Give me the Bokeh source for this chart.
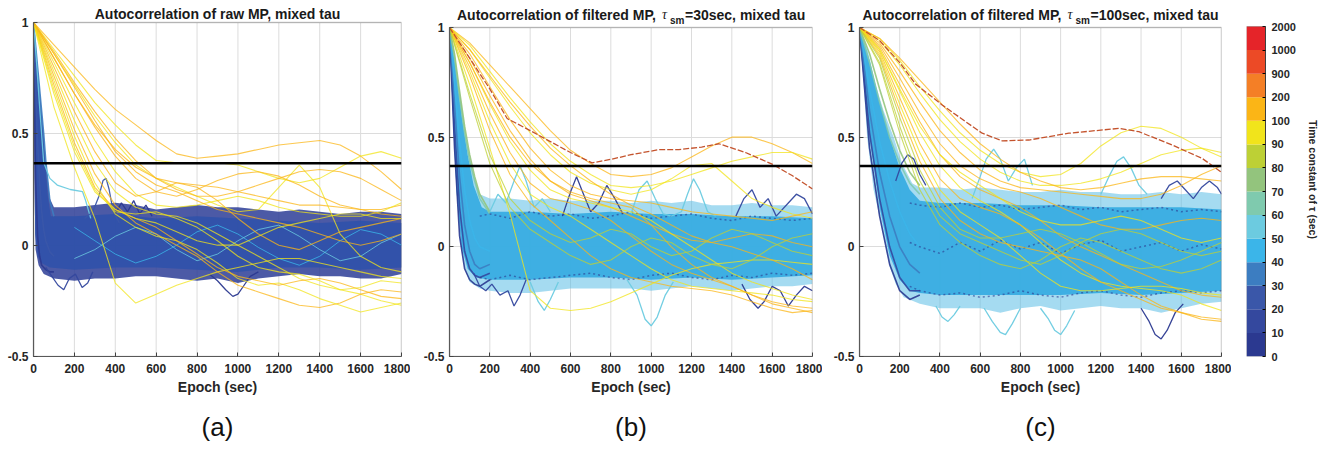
from bokeh.plotting import figure
from bokeh.models import Range1d, FixedTicker, Span, Label, Title, BoxAnnotation
from bokeh.layouts import row
from bokeh.embed import file_html
from bokeh.resources import INLINE

FONT = "Liberation Sans"

# ---------------- axes / scale ----------------
epoch_ticks = [0, 200, 400, 600, 800, 1000, 1200, 1400, 1600, 1800]
acf_ticks = [-0.5, 0, 0.5, 1]
acf_tick_labels = ["-0.5", "0", "0.5", "1"]
epoch_min, epoch_max = 0, 1800
acf_min, acf_max = -0.5, 1
one_over_e = 0.368

tau_bin_labels = ["0", "10", "20", "30", "40", "50", "60", "70", "80", "90",
                  "100", "200", "900", "1000", "2000"]
tau_colors = ["#2b3990", "#34489e", "#3a57a9", "#3c7dc1", "#3bb5e9", "#6ccbe0",
              "#7fcaae", "#93c47d", "#bdd035", "#f1e41b", "#fbb516", "#f47f26",
              "#ec4a26", "#e52429"]
red_curve_color = "#c4532d"

epoch_grid = [0, 100, 200, 300, 400, 500, 600, 700, 800, 900, 1000, 1100,
              1200, 1300, 1400, 1500, 1600, 1700, 1800]

# ================= panel (a) =================
a_band_up_x = [0, 20, 40, 50, 60, 80, 100, 200, 300, 400, 500, 600, 700, 800,
               900, 1000, 1100, 1200, 1300, 1400, 1500, 1600, 1700, 1800]
a_band_up_y = [1.00, 0.80, 0.60, 0.50, 0.38, 0.21, 0.17, 0.17, 0.18, 0.19, 0.18,
               0.16, 0.17, 0.18, 0.17, 0.17, 0.16, 0.15, 0.16, 0.15, 0.14, 0.15,
               0.15, 0.14]
a_band_lo_x = [0, 5, 10, 25, 50, 100, 200, 300, 400, 500, 600, 700, 800, 900,
               1000, 1100, 1200, 1300, 1400, 1500, 1600, 1700, 1800]
a_band_lo_y = [0.90, 0.25, -0.02, -0.09, -0.13, -0.15, -0.16, -0.15, -0.15,
               -0.14, -0.14, -0.15, -0.16, -0.15, -0.17, -0.15, -0.14, -0.13,
               -0.14, -0.14, -0.15, -0.15, -0.13]
a_core_up_x = [0, 18, 35, 46, 56, 70, 85, 200, 400, 600, 800, 1000, 1200, 1400,
               1600, 1800]
a_core_up_y = [1.00, 0.78, 0.60, 0.50, 0.38, 0.22, 0.13, 0.13, 0.14, 0.12, 0.13,
               0.12, 0.11, 0.10, 0.11, 0.10]
a_core_lo_x = [0, 8, 20, 40, 80, 200, 400, 600, 800, 1000, 1200, 1400, 1600, 1800]
a_core_lo_y = [0.95, 0.05, -0.05, -0.08, -0.10, -0.11, -0.10, -0.10, -0.11,
               -0.12, -0.10, -0.10, -0.11, -0.10]

a_decay_x = [0, 10, 20, 30, 40, 50, 60, 80, 100]
a_decay_y = [
    [1.00, 0.30, 0.04, -0.05, -0.09, -0.10, -0.11, -0.12, -0.12],
    [1.00, 0.72, 0.46, 0.28, 0.15, 0.07, 0.02, -0.03, -0.05],
    [1.00, 0.90, 0.80, 0.70, 0.60, 0.50, 0.38, 0.20, 0.13],
]
a_decay_tau = [0, 2, 3]

a_streak_x = [200, 300, 400, 500, 600, 700, 800, 900, 1000, 1100, 1200, 1300,
              1400, 1500, 1600, 1700, 1800]
a_streak_y = [
    [0.08, 0.02, -0.04, -0.08, -0.05, 0.00, 0.06, 0.09, 0.05, -0.01, -0.06,
     -0.09, -0.05, 0.02, 0.07, 0.05, 0.00],
    [-0.06, -0.02, 0.04, 0.08, 0.05, -0.02, -0.07, -0.04, 0.02, 0.07, 0.09,
     0.04, -0.02, -0.07, -0.05, 0.01, 0.05],
]
a_streak_tau = [4, 5]

a_wig_x = [
    [0, 15, 30, 50, 80, 116, 180, 240, 255, 280],
    [250, 290, 320, 340, 355, 370, 390, 420],
    [60, 90, 120, 148, 175, 205, 238, 265, 290],
    [860, 900, 940, 975, 1000, 1030, 1060, 1100],
    [400, 430, 460, 490, 520, 550, 580],
]
a_wig_y = [
    [1.00, 0.82, 0.62, 0.37, 0.30, 0.27, 0.25, 0.24, 0.20, 0.12],
    [0.12, 0.15, 0.22, 0.29, 0.30, 0.25, 0.15, 0.10],
    [-0.10, -0.14, -0.18, -0.20, -0.15, -0.13, -0.19, -0.17, -0.12],
    [-0.13, -0.16, -0.20, -0.23, -0.22, -0.18, -0.14, -0.12],
    [0.14, 0.19, 0.15, 0.20, 0.14, 0.18, 0.13],
]
a_wig_tau = [5, 2, 1, 0, 0]

a_slow_y = [
    [1.00, 0.90, 0.80, 0.70, 0.61, 0.54, 0.47, 0.41, 0.39, 0.40, 0.41, 0.43, 0.45, 0.46, 0.47, 0.45, 0.40, 0.33, 0.25],
    [1.00, 0.88, 0.76, 0.64, 0.54, 0.45, 0.38, 0.37, 0.37, 0.37, 0.36, 0.33, 0.30, 0.28, 0.30, 0.35, 0.40, 0.42, 0.39],
    [1.00, 0.86, 0.72, 0.58, 0.46, 0.36, 0.30, 0.26, 0.22, 0.18, 0.15, 0.16, 0.26, 0.36, 0.26, 0.05, -0.05, -0.10, -0.12],
    [1.00, 0.87, 0.73, 0.60, 0.48, 0.38, 0.30, 0.25, 0.22, 0.22, 0.24, 0.27, 0.30, 0.33, 0.34, 0.33, 0.30, 0.25, 0.20],
    [1.00, 0.84, 0.68, 0.53, 0.40, 0.30, 0.24, 0.22, 0.25, 0.29, 0.32, 0.33, 0.31, 0.27, 0.22, 0.18, 0.16, 0.16, 0.18],
    [1.00, 0.82, 0.64, 0.47, 0.33, 0.23, 0.18, 0.17, 0.18, 0.20, 0.22, 0.20, 0.17, 0.15, 0.14, 0.13, 0.13, 0.15, 0.19],
    [1.00, 0.80, 0.60, 0.42, 0.28, 0.22, 0.24, 0.28, 0.26, 0.20, 0.12, 0.05, 0.00, -0.02, 0.02, 0.06, 0.08, 0.10, 0.12],
    [1.00, 0.78, 0.56, 0.37, 0.24, 0.17, 0.14, 0.13, 0.10, 0.05, 0.00, -0.05, -0.10, -0.15, -0.18, -0.20, -0.22, -0.25, -0.27],
    [1.00, 0.62, 0.35, 0.12, -0.17, -0.26, -0.22, -0.18, -0.15, -0.12, -0.10, -0.08, -0.06, -0.06, -0.08, -0.10, -0.12, -0.14, -0.15],
    [1.00, 0.76, 0.52, 0.32, 0.18, 0.10, 0.05, 0.00, -0.05, -0.12, -0.18, -0.21, -0.24, -0.27, -0.28, -0.26, -0.22, -0.20, -0.21],
    [1.00, 0.74, 0.49, 0.28, 0.14, 0.08, 0.04, 0.02, -0.02, -0.08, -0.15, -0.18, -0.17, -0.20, -0.24, -0.27, -0.30, -0.28, -0.26],
    [1.00, 0.72, 0.46, 0.26, 0.16, 0.12, 0.08, 0.02, -0.04, -0.10, -0.14, -0.16, -0.18, -0.16, -0.15, -0.17, -0.20, -0.23, -0.24],
    [1.00, 0.70, 0.44, 0.25, 0.15, 0.14, 0.15, 0.12, 0.08, 0.02, -0.05, -0.10, -0.12, -0.13, -0.16, -0.20, -0.19, -0.16, -0.17],
    [1.00, 0.86, 0.71, 0.56, 0.42, 0.33, 0.27, 0.24, 0.20, 0.16, 0.14, 0.12, 0.10, 0.08, 0.05, 0.02, 0.00, 0.02, 0.05],
    [1.00, 0.68, 0.42, 0.24, 0.16, 0.12, 0.10, 0.06, 0.02, 0.00, 0.00, 0.04, 0.08, 0.10, 0.12, 0.14, 0.14, 0.12, 0.12],
    [1.00, 0.84, 0.68, 0.54, 0.43, 0.35, 0.30, 0.28, 0.27, 0.26, 0.24, 0.22, 0.20, 0.18, 0.18, 0.17, 0.16, 0.14, 0.13],
]
a_slow_tau = [10, 9, 9, 10, 10, 9, 10, 9, 9, 10, 9, 10, 9, 10, 9, 10]

# ================= panel (b) =================
b_band_up_x = [0, 25, 50, 75, 100, 125, 150, 200, 300, 400, 500, 600, 700, 800,
               900, 1000, 1100, 1200, 1300, 1400, 1500, 1600, 1700, 1800]
b_band_up_y = [1.00, 0.87, 0.70, 0.54, 0.40, 0.31, 0.24, 0.22, 0.22, 0.21, 0.22,
               0.21, 0.21, 0.21, 0.20, 0.21, 0.20, 0.21, 0.19, 0.19, 0.20, 0.19,
               0.19, 0.18]
b_band_lo_x = [0, 10, 25, 50, 75, 100, 150, 200, 300, 400, 500, 600, 700, 800,
               900, 1000, 1100, 1200, 1300, 1400, 1500, 1600, 1700, 1800]
b_band_lo_y = [1.00, 0.75, 0.42, 0.04, -0.10, -0.16, -0.19, -0.20, -0.21, -0.21,
               -0.20, -0.19, -0.19, -0.19, -0.19, -0.20, -0.19, -0.18, -0.19,
               -0.20, -0.19, -0.18, -0.18, -0.17]
b_core_up_x = [0, 30, 60, 90, 120, 160, 200, 400, 600, 800, 1000, 1200, 1400, 1600, 1800]
b_core_up_y = [1.00, 0.82, 0.60, 0.42, 0.28, 0.18, 0.16, 0.16, 0.15, 0.16, 0.15,
               0.15, 0.14, 0.14, 0.13]
b_core_lo_x = [0, 15, 35, 60, 90, 130, 200, 400, 600, 800, 1000, 1200, 1400, 1600, 1800]
b_core_lo_y = [1.00, 0.62, 0.25, 0.00, -0.10, -0.14, -0.15, -0.15, -0.14, -0.14,
               -0.15, -0.14, -0.15, -0.14, -0.13]

b_decay_x = [0, 25, 50, 75, 100, 125, 150, 200]
b_decay_y = [
    [1.00, 0.45, 0.05, -0.10, -0.15, -0.17, -0.18, -0.15],
    [1.00, 0.55, 0.18, -0.02, -0.10, -0.13, -0.14, -0.12],
    [1.00, 0.65, 0.32, 0.10, -0.02, -0.08, -0.10, -0.08],
    [1.00, 0.75, 0.48, 0.26, 0.12, 0.04, 0.00, -0.02],
    [1.00, 0.86, 0.68, 0.52, 0.39, 0.30, 0.22, 0.15],
    [1.00, 0.88, 0.71, 0.55, 0.42, 0.32, 0.24, 0.16],
]
b_decay_tau = [0, 1, 3, 4, 6, 7]

b_spk_x = [150, 200, 300, 400, 500, 600, 700, 800, 900, 1000, 1100, 1200, 1300,
           1400, 1500, 1600, 1700, 1800]
b_spk_y = [
    [0.14, 0.15, 0.13, 0.16, 0.14, 0.15, 0.13, 0.14, 0.16, 0.13, 0.14, 0.15, 0.13, 0.12, 0.14, 0.13, 0.12, 0.13],
    [-0.14, -0.15, -0.13, -0.15, -0.14, -0.13, -0.12, -0.14, -0.15, -0.13, -0.12, -0.14, -0.15, -0.13, -0.14, -0.12, -0.13, -0.12],
]

b_wig_x = [
    [200, 240, 280, 320, 350, 380, 420, 460, 500],
    [560, 600, 630, 660, 700, 740, 780, 820, 860],
    [900, 940, 980, 1020, 1060, 1100, 1150, 1180, 1210, 1240, 1280, 1320],
    [1420, 1460, 1500, 1540, 1580, 1620, 1680, 1720, 1760, 1800],
    [120, 150, 180, 210, 250, 290, 320, 350, 380],
    [400, 440, 470, 500, 540],
    [880, 930, 970, 1000, 1030, 1070, 1110],
    [1450, 1490, 1530, 1560, 1600, 1640, 1680, 1720, 1760, 1800],
]
b_wig_y = [
    [0.16, 0.24, 0.20, 0.30, 0.37, 0.30, 0.18, 0.22, 0.16],
    [0.14, 0.25, 0.32, 0.25, 0.16, 0.20, 0.28, 0.22, 0.15],
    [0.15, 0.26, 0.30, 0.22, 0.15, 0.14, 0.16, 0.24, 0.31, 0.26, 0.16, 0.14],
    [0.14, 0.22, 0.26, 0.18, 0.22, 0.14, 0.20, 0.24, 0.22, 0.15],
    [-0.12, -0.18, -0.20, -0.17, -0.22, -0.20, -0.27, -0.22, -0.15],
    [-0.16, -0.25, -0.29, -0.24, -0.16],
    [-0.15, -0.22, -0.33, -0.36, -0.32, -0.22, -0.16],
    [-0.17, -0.24, -0.28, -0.25, -0.18, -0.20, -0.27, -0.22, -0.18, -0.20],
]
b_wig_tau = [5, 0, 5, 1, 1, 5, 5, 0]

b_slow_y = [
    [1.00, 0.93, 0.83, 0.73, 0.63, 0.53, 0.44, 0.38, 0.33, 0.32, 0.33, 0.36, 0.41, 0.46, 0.50, 0.50, 0.47, 0.43, 0.38],
    [1.00, 0.92, 0.80, 0.68, 0.57, 0.47, 0.39, 0.33, 0.28, 0.27, 0.28, 0.30, 0.33, 0.36, 0.39, 0.41, 0.43, 0.43, 0.40],
    [1.00, 0.90, 0.77, 0.64, 0.52, 0.42, 0.34, 0.29, 0.26, 0.24, 0.26, 0.31, 0.37, 0.38, 0.30, 0.22, 0.18, 0.15, 0.13],
    [1.00, 0.88, 0.73, 0.58, 0.45, 0.35, 0.28, 0.24, 0.22, 0.21, 0.20, 0.18, 0.16, 0.15, 0.14, 0.13, 0.12, 0.14, 0.16],
    [1.00, 0.86, 0.69, 0.53, 0.40, 0.30, 0.24, 0.21, 0.18, 0.14, 0.10, 0.06, 0.03, 0.02, 0.04, 0.06, 0.05, 0.02, 0.00],
    [1.00, 0.84, 0.65, 0.48, 0.35, 0.26, 0.22, 0.20, 0.18, 0.16, 0.12, 0.06, 0.00, -0.06, -0.12, -0.16, -0.19, -0.22, -0.24],
    [1.00, 0.82, 0.61, 0.43, 0.29, 0.22, 0.20, 0.17, 0.12, 0.05, -0.02, -0.08, -0.12, -0.15, -0.18, -0.22, -0.25, -0.27, -0.28],
    [1.00, 0.80, 0.57, 0.38, 0.24, 0.18, 0.14, 0.08, 0.02, -0.04, -0.10, -0.15, -0.18, -0.19, -0.20, -0.21, -0.22, -0.24, -0.25],
    [1.00, 0.78, 0.53, 0.33, 0.20, 0.12, 0.04, -0.04, -0.10, -0.14, -0.16, -0.18, -0.19, -0.20, -0.22, -0.25, -0.28, -0.30, -0.29],
    [1.00, 0.74, 0.45, 0.15, -0.20, -0.28, -0.29, -0.28, -0.25, -0.21, -0.17, -0.13, -0.10, -0.08, -0.07, -0.06, -0.06, -0.07, -0.08],
    [1.00, 0.84, 0.66, 0.50, 0.38, 0.30, 0.25, 0.22, 0.20, 0.18, 0.10, 0.00, -0.08, -0.14, -0.18, -0.22, -0.26, -0.28, -0.30],
    [1.00, 0.90, 0.78, 0.66, 0.55, 0.45, 0.37, 0.30, 0.24, 0.19, 0.15, 0.10, 0.05, 0.02, 0.00, -0.03, -0.06, -0.10, -0.15],
    [1.00, 0.70, 0.42, 0.22, 0.12, 0.06, 0.02, 0.04, 0.08, 0.06, 0.00, -0.04, -0.02, 0.04, 0.08, 0.06, 0.02, -0.02, -0.04],
    [1.00, 0.68, 0.38, 0.18, 0.08, 0.02, -0.04, -0.08, -0.06, 0.00, 0.04, 0.02, -0.04, -0.08, -0.10, -0.06, 0.00, 0.04, 0.06],
]
b_slow_tau = [10, 9, 9, 10, 10, 9, 10, 9, 10, 9, 10, 10, 8, 8]

b_red_x = [0, 100, 200, 286, 400, 500, 600, 707, 806, 900, 1038, 1137, 1250, 1336,
           1468, 1600, 1699, 1800]
b_red_y = [1.00, 0.86, 0.72, 0.585, 0.53, 0.48, 0.43, 0.383, 0.40, 0.42, 0.443,
           0.443, 0.455, 0.47, 0.43, 0.377, 0.325, 0.264]

# ================= panel (c) =================
c_band_up_x = [0, 40, 80, 120, 170, 212, 262, 300, 400, 500, 600, 700, 800, 900,
               1000, 1100, 1200, 1300, 1400, 1500, 1600, 1700, 1800]
c_band_up_y = [1.00, 0.90, 0.74, 0.62, 0.50, 0.38, 0.29, 0.27, 0.27, 0.26, 0.27,
               0.26, 0.25, 0.25, 0.26, 0.25, 0.25, 0.24, 0.24, 0.25, 0.24, 0.25,
               0.24]
c_band_lo_x = [0, 20, 38, 70, 104, 130, 150, 180, 220, 300, 400, 500, 600, 700,
               800, 900, 1000, 1100, 1200, 1300, 1400, 1500, 1600, 1700, 1800]
c_band_lo_y = [1.00, 0.75, 0.50, 0.26, 0.12, 0.00, -0.09, -0.17, -0.23, -0.26,
               -0.28, -0.28, -0.28, -0.30, -0.28, -0.27, -0.29, -0.28, -0.27,
               -0.28, -0.28, -0.30, -0.28, -0.26, -0.25]
c_core_up_x = [0, 50, 100, 150, 200, 250, 300, 400, 600, 800, 1000, 1200, 1400, 1600, 1800]
c_core_up_y = [1.00, 0.85, 0.66, 0.50, 0.36, 0.26, 0.21, 0.20, 0.20, 0.19, 0.19,
               0.18, 0.18, 0.18, 0.17]
c_core_lo_x = [0, 50, 100, 150, 200, 250, 300, 400, 600, 800, 1000, 1200, 1400, 1600, 1800]
c_core_lo_y = [1.00, 0.50, 0.18, -0.04, -0.15, -0.20, -0.21, -0.22, -0.22, -0.22,
               -0.22, -0.21, -0.22, -0.21, -0.20]

c_decay_x = [0, 50, 100, 150, 200, 250, 300]
c_decay_y = [
    [1.00, 0.45, 0.14, -0.08, -0.20, -0.24, -0.22],
    [1.00, 0.52, 0.22, 0.00, -0.14, -0.20, -0.20],
    [1.00, 0.62, 0.34, 0.14, 0.00, -0.08, -0.12],
    [1.00, 0.72, 0.48, 0.30, 0.16, 0.06, 0.00],
    [1.00, 0.84, 0.66, 0.50, 0.38, 0.29, 0.24],
    [1.00, 0.88, 0.72, 0.57, 0.44, 0.34, 0.28],
]
c_decay_tau = [0, 1, 3, 4, 6, 7]

c_spk_x = [250, 300, 400, 500, 600, 700, 800, 900, 1000, 1100, 1200, 1300, 1400,
           1500, 1600, 1700, 1800]
c_spk_y = [
    [0.20, 0.19, 0.18, 0.20, 0.18, 0.19, 0.17, 0.18, 0.19, 0.17, 0.18, 0.16, 0.17, 0.18, 0.16, 0.17, 0.16],
    [-0.18, -0.20, -0.22, -0.21, -0.23, -0.22, -0.20, -0.22, -0.23, -0.21, -0.20, -0.22, -0.23, -0.21, -0.20, -0.21, -0.20],
    [0.02, 0.00, -0.03, 0.02, -0.02, 0.03, -0.01, 0.02, -0.03, 0.01, 0.03, -0.02, 0.00, 0.02, -0.02, 0.01, -0.01],
]

c_wig_x = [
    [560, 600, 630, 667, 700, 740, 780, 820, 860],
    [180, 210, 240, 270, 300, 330],
    [1200, 1240, 1280, 1313, 1350, 1390, 1430],
    [1500, 1540, 1580, 1620, 1660, 1700, 1740, 1780, 1800],
    [620, 660, 700, 726, 760, 800],
    [900, 940, 970, 1000, 1030, 1070],
    [1400, 1440, 1470, 1500, 1530, 1570, 1610],
    [380, 410, 440, 470, 500],
]
c_wig_y = [
    [0.22, 0.32, 0.40, 0.445, 0.40, 0.30, 0.36, 0.40, 0.28],
    [0.30, 0.38, 0.42, 0.40, 0.33, 0.28],
    [0.24, 0.32, 0.39, 0.41, 0.36, 0.28, 0.24],
    [0.22, 0.28, 0.30, 0.26, 0.22, 0.27, 0.30, 0.27, 0.24],
    [-0.28, -0.34, -0.39, -0.40, -0.35, -0.28],
    [-0.28, -0.33, -0.38, -0.40, -0.36, -0.29],
    [-0.28, -0.34, -0.40, -0.42, -0.38, -0.30, -0.26],
    [-0.27, -0.32, -0.34, -0.31, -0.27],
]
c_wig_tau = [5, 1, 5, 1, 5, 5, 0, 5]

c_slow_y = [
    [1.00, 0.95, 0.85, 0.73, 0.62, 0.52, 0.44, 0.38, 0.34, 0.32, 0.33, 0.38, 0.46, 0.52, 0.55, 0.54, 0.50, 0.45, 0.41],
    [1.00, 0.94, 0.83, 0.70, 0.58, 0.48, 0.40, 0.34, 0.30, 0.28, 0.28, 0.29, 0.31, 0.34, 0.38, 0.42, 0.44, 0.45, 0.43],
    [1.00, 0.93, 0.80, 0.66, 0.53, 0.43, 0.35, 0.30, 0.27, 0.26, 0.25, 0.24, 0.23, 0.22, 0.22, 0.24, 0.28, 0.33, 0.37],
    [1.00, 0.92, 0.77, 0.61, 0.47, 0.37, 0.31, 0.27, 0.25, 0.22, 0.18, 0.14, 0.10, 0.08, 0.08, 0.10, 0.12, 0.13, 0.12],
    [1.00, 0.91, 0.74, 0.57, 0.42, 0.32, 0.26, 0.22, 0.18, 0.12, 0.05, 0.00, -0.04, -0.08, -0.12, -0.16, -0.20, -0.22, -0.23],
    [1.00, 0.90, 0.71, 0.52, 0.37, 0.27, 0.21, 0.16, 0.10, 0.02, -0.06, -0.12, -0.16, -0.18, -0.19, -0.20, -0.22, -0.26, -0.29],
    [1.00, 0.89, 0.68, 0.47, 0.31, 0.22, 0.18, 0.15, 0.10, 0.04, -0.03, -0.10, -0.16, -0.20, -0.24, -0.28, -0.30, -0.32, -0.33],
    [1.00, 0.88, 0.65, 0.43, 0.26, 0.16, 0.10, 0.04, -0.04, -0.12, -0.18, -0.20, -0.20, -0.19, -0.18, -0.18, -0.19, -0.21, -0.22],
    [1.00, 0.87, 0.62, 0.39, 0.22, 0.12, 0.06, 0.02, 0.00, -0.02, -0.04, -0.06, -0.10, -0.16, -0.22, -0.27, -0.30, -0.33, -0.34],
    [1.00, 0.86, 0.59, 0.35, 0.18, 0.08, 0.04, 0.04, 0.06, 0.08, 0.06, 0.02, -0.03, -0.08, -0.10, -0.09, -0.06, -0.02, 0.02],
    [1.00, 0.95, 0.86, 0.76, 0.66, 0.56, 0.47, 0.40, 0.34, 0.30, 0.27, 0.26, 0.27, 0.29, 0.31, 0.32, 0.32, 0.31, 0.30],
    [1.00, 0.84, 0.55, 0.30, 0.14, 0.06, 0.02, -0.02, -0.06, -0.08, -0.04, 0.02, 0.06, 0.08, 0.06, 0.02, -0.02, -0.04, -0.02],
    [1.00, 0.83, 0.52, 0.26, 0.10, 0.02, -0.04, -0.08, -0.10, -0.06, 0.00, 0.04, 0.02, -0.02, -0.06, -0.10, -0.12, -0.10, -0.06],
    [1.00, 0.90, 0.72, 0.55, 0.42, 0.34, 0.28, 0.22, 0.16, 0.12, 0.10, 0.10, 0.12, 0.14, 0.12, 0.08, 0.04, 0.02, 0.04],
]
c_slow_tau = [9, 9, 10, 10, 10, 9, 10, 9, 10, 8, 10, 8, 8, 9]

c_red_x = [0, 100, 200, 278, 411, 527, 610, 710, 842, 1041, 1290, 1389, 1555, 1704, 1800]
c_red_y = [1.00, 0.94, 0.84, 0.743, 0.647, 0.571, 0.518, 0.483, 0.487, 0.518,
           0.54, 0.525, 0.464, 0.403, 0.34]

# ---------------- layout constants (pixels) ----------------
TOP_B, FRAME_H, BOTTOM_B = 2, 354, 92


def build_panel(d, left_b, frame_w, right_b, y_top):
    # the frame reaches up into the title strip so the title texts sit inside it
    p = figure(frame_width=frame_w, frame_height=FRAME_H, title=None,
               x_range=Range1d(epoch_min, epoch_max), y_range=Range1d(acf_min, y_top),
               min_border_left=left_b, min_border_right=right_b,
               min_border_top=TOP_B, min_border_bottom=BOTTOM_B,
               output_backend="svg", toolbar_location=None)
    p.background_fill_color = "white"
    p.outline_line_color = None
    for ax in (p.xaxis, p.yaxis):
        ax.major_label_text_font = FONT
        ax.major_label_text_font_style = "bold"
        ax.major_label_text_font_size = "12px"
        ax.major_label_text_color = "#262626"
        ax.axis_line_color = "#5a5a5a"
        ax.axis_line_width = 1.2
        ax.major_tick_in = 4
        ax.major_tick_out = 0
        ax.major_tick_line_color = "#404040"
        ax.minor_tick_line_color = None
    p.xaxis.ticker = FixedTicker(ticks=epoch_ticks)
    p.yaxis.ticker = FixedTicker(ticks=acf_ticks)
    p.yaxis.bounds = (acf_min, acf_max)
    p.yaxis.major_label_overrides = {t: s for t, s in zip(acf_ticks, acf_tick_labels)}
    p.xaxis.major_label_standoff = 7
    p.yaxis.major_label_standoff = 5
    p.xaxis.axis_label = "Epoch (sec)"
    p.xaxis.axis_label_text_font = FONT
    p.xaxis.axis_label_text_font_style = "bold"
    p.xaxis.axis_label_text_font_size = "14px"
    p.xaxis.axis_label_text_color = "#262626"
    p.xaxis.axis_label_standoff = 3
    p.xgrid.visible = False
    p.ygrid.ticker = FixedTicker(ticks=acf_ticks)
    p.ygrid.grid_line_color = "#dcdcdc"
    p.segment(x0=epoch_ticks, y0=[acf_min] * len(epoch_ticks), x1=epoch_ticks,
              y1=[acf_max] * len(epoch_ticks), line_color="#dcdcdc", line_width=1,
              level="underlay")

    # dense cloud of short-tau curves
    p.patch(d["band_up_x"] + d["band_lo_x"][::-1], d["band_up_y"] + d["band_lo_y"][::-1],
            fill_color=d["band_color"], fill_alpha=d["band_alpha"], line_color=None)
    p.patch(d["core_up_x"] + d["core_lo_x"][::-1], d["core_up_y"] + d["core_lo_y"][::-1],
            fill_color=d["core_color"], fill_alpha=0.95, line_color=None)
    for ys, t in zip(d["decay_y"], d["decay_tau"]):
        p.line(d["decay_x"], ys, line_color=tau_colors[t], line_width=1.6, line_alpha=0.9)
    for ys in d.get("spk_y", []):
        p.line(d["spk_x"], ys, line_color=tau_colors[0], line_width=1.5,
               line_alpha=0.6, line_dash="2 3")
    for ys, t in zip(d.get("streak_y", []), d.get("streak_tau", [])):
        p.line(d["streak_x"], ys, line_color=tau_colors[t], line_width=1, line_alpha=0.8)
    for xs, ys, t in zip(d["wig_x"], d["wig_y"], d["wig_tau"]):
        p.line(xs, ys, line_color=tau_colors[t], line_width=1.3, line_alpha=0.95)
    for ys, t in zip(d["slow_y"], d["slow_tau"]):
        p.line(epoch_grid, ys, line_color=tau_colors[t], line_width=1.1, line_alpha=0.75)
    if "red_x" in d:
        p.line(d["red_x"], d["red_y"], line_color=red_curve_color, line_width=1.3,
               line_dash="6 2")
    p.add_layout(Span(location=one_over_e, dimension="width", line_color="black",
                      line_width=2.5))
    p.add_layout(BoxAnnotation(left=epoch_min, right=epoch_max, bottom=acf_min,
                               top=acf_max, fill_alpha=0, line_color="#5a5a5a",
                               line_width=1.5))

    # titles (inside the extended frame, above y = 1)
    if d["sub"] is None:
        p.add_layout(Label(x=900, y=acf_max, y_offset=8, text=d["title"],
                           text_align="center", text_baseline="alphabetic",
                           text_font=FONT, text_font_style="bold",
                           text_font_size="14px", text_color="#1a1a1a"))
    else:
        o = d["offs"]
        p.add_layout(Label(x=900, y=acf_max, x_offset=o[0], y_offset=13, text=d["title"],
                           text_align="left", text_baseline="alphabetic", text_font=FONT,
                           text_font_style="bold", text_font_size="14px", text_color="#1a1a1a"))
        p.add_layout(Label(x=900, y=acf_max, x_offset=o[1], y_offset=13, text="τ",
                           text_align="left", text_baseline="alphabetic",
                           text_font="Liberation Serif", text_font_style="italic",
                           text_font_size="14px", text_color="#1a1a1a"))
        p.add_layout(Label(x=900, y=acf_max, x_offset=o[2], y_offset=7, text="sm",
                           text_align="left", text_baseline="alphabetic", text_font=FONT,
                           text_font_style="bold", text_font_size="10px", text_color="#1a1a1a"))
        p.add_layout(Label(x=900, y=acf_max, x_offset=o[3], y_offset=13, text=d["sub"],
                           text_align="left", text_baseline="alphabetic", text_font=FONT,
                           text_font_style="bold", text_font_size="14px", text_color="#1a1a1a"))
    p.add_layout(Title(text=d["letter"], align="center", text_font=FONT,
                       text_font_size="26px", text_font_style="normal",
                       text_color="#111111", standoff=24), "below")
    return p


panel_a = dict(band_up_x=a_band_up_x, band_up_y=a_band_up_y, band_lo_x=a_band_lo_x,
               band_lo_y=a_band_lo_y, core_up_x=a_core_up_x, core_up_y=a_core_up_y,
               core_lo_x=a_core_lo_x, core_lo_y=a_core_lo_y,
               band_color="#2d3d97", band_alpha=0.85, core_color="#3052aa",
               decay_x=a_decay_x, decay_y=a_decay_y, decay_tau=a_decay_tau,
               streak_x=a_streak_x, streak_y=a_streak_y, streak_tau=a_streak_tau,
               wig_x=a_wig_x, wig_y=a_wig_y, wig_tau=a_wig_tau,
               slow_y=a_slow_y, slow_tau=a_slow_tau,
               title="Autocorrelation of raw MP, mixed tau", sub=None, letter="(a)")
panel_b = dict(band_up_x=b_band_up_x, band_up_y=b_band_up_y, band_lo_x=b_band_lo_x,
               band_lo_y=b_band_lo_y, core_up_x=b_core_up_x, core_up_y=b_core_up_y,
               core_lo_x=b_core_lo_x, core_lo_y=b_core_lo_y,
               band_color="#5bbde6", band_alpha=0.55, core_color="#38ade2",
               decay_x=b_decay_x, decay_y=b_decay_y, decay_tau=b_decay_tau,
               spk_x=b_spk_x, spk_y=b_spk_y,
               wig_x=b_wig_x, wig_y=b_wig_y, wig_tau=b_wig_tau,
               slow_y=b_slow_y, slow_tau=b_slow_tau, red_x=b_red_x, red_y=b_red_y,
               title="Autocorrelation of filtered MP, ", sub="=30sec, mixed tau",
               offs=[-174, 31, 39, 54], letter="(b)")
panel_c = dict(band_up_x=c_band_up_x, band_up_y=c_band_up_y, band_lo_x=c_band_lo_x,
               band_lo_y=c_band_lo_y, core_up_x=c_core_up_x, core_up_y=c_core_up_y,
               core_lo_x=c_core_lo_x, core_lo_y=c_core_lo_y,
               band_color="#5bbde6", band_alpha=0.55, core_color="#38ade2",
               decay_x=c_decay_x, decay_y=c_decay_y, decay_tau=c_decay_tau,
               spk_x=c_spk_x, spk_y=c_spk_y,
               wig_x=c_wig_x, wig_y=c_wig_y, wig_tau=c_wig_tau,
               slow_y=c_slow_y, slow_tau=c_slow_tau, red_x=c_red_x, red_y=c_red_y,
               title="Autocorrelation of filtered MP, ", sub="=100sec, mixed tau",
               offs=[-178, 27, 35, 50], letter="(c)")

# y-range tops put y = 1 at 22 px (a) and 27 px (b, c) from the top of the page
pa = build_panel(panel_a, 33, 368, 9, 1.0898)
pb = build_panel(panel_b, 39, 363, 10, 1.114)
pc = build_panel(panel_c, 37, 362, 10, 1.114)

# ---------------- colour bar ----------------
n_bins = len(tau_colors)
bin_lo = list(range(n_bins))
bin_hi = [b + 1 for b in bin_lo]
cb = figure(frame_width=19, frame_height=FRAME_H, title=None, x_range=Range1d(0, 1),
            y_range=Range1d(0, n_bins + 1.02), min_border_left=15,
            min_border_right=55, min_border_top=TOP_B, min_border_bottom=BOTTOM_B,
            output_backend="svg", toolbar_location=None,
            x_axis_location=None, y_axis_location="right")
cb.quad(left=0, right=1, bottom=bin_lo, top=bin_hi, fill_color=tau_colors, line_color=None)
cb.add_layout(BoxAnnotation(left=0, right=1, bottom=0, top=n_bins, fill_alpha=0,
                            line_color="#404040", line_width=1))
cb.grid.visible = False
cb.outline_line_color = None
cb.yaxis.bounds = (0, n_bins)
cb.yaxis.ticker = FixedTicker(ticks=list(range(len(tau_bin_labels))))
cb.yaxis.major_label_overrides = {i: s for i, s in enumerate(tau_bin_labels)}
cb.yaxis.major_label_text_font = FONT
cb.yaxis.major_label_text_font_style = "bold"
cb.yaxis.major_label_text_font_size = "11px"
cb.yaxis.major_label_text_color = "#262626"
cb.yaxis.major_label_standoff = 6
cb.yaxis.major_tick_in = 3
cb.yaxis.major_tick_out = 0
cb.yaxis.minor_tick_line_color = None
cb.yaxis.axis_line_color = "#404040"
cb.yaxis.axis_label = "Time constant of τ (sec)"
cb.yaxis.axis_label_text_font = FONT
cb.yaxis.axis_label_text_font_style = "bold"
cb.yaxis.axis_label_text_font_size = "10.5px"
cb.yaxis.axis_label_text_color = "#262626"
cb.yaxis.axis_label_standoff = 8

layout = row(pa, pb, pc, cb, spacing=0)
open("out.html", "w").write(file_html(layout, INLINE, "Autocorrelation"))
